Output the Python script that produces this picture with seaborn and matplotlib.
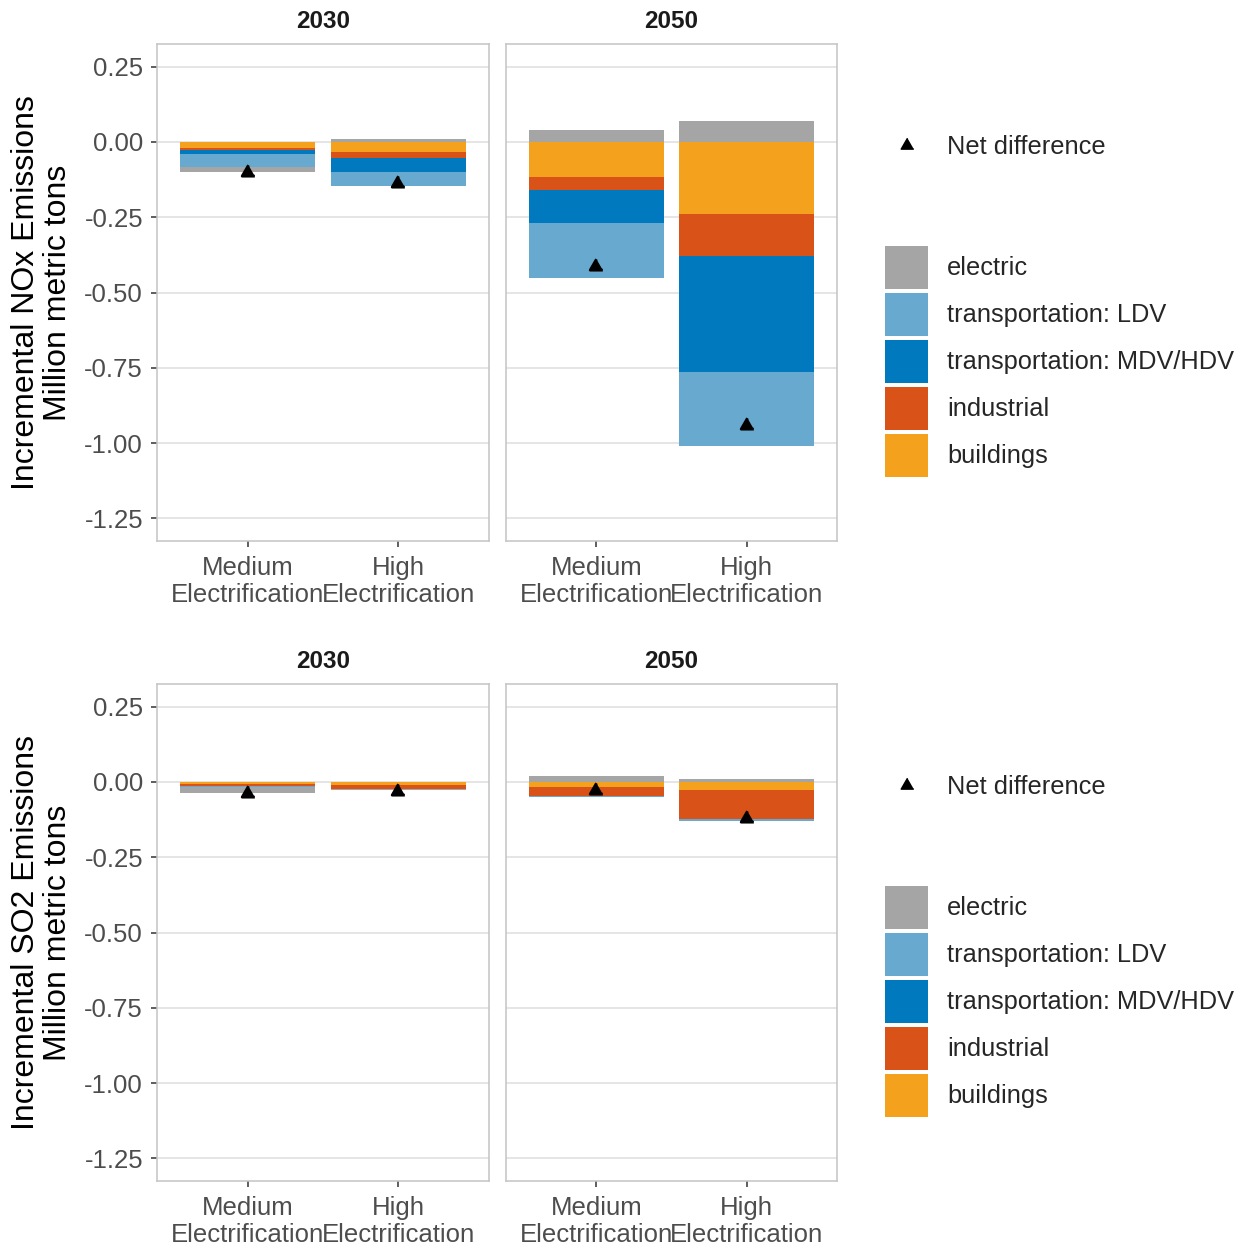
import numpy as np
import matplotlib
matplotlib.use("Agg")
import matplotlib.pyplot as plt
import seaborn as sns
from matplotlib.patches import Patch
from matplotlib.lines import Line2D

# ---------------- data ----------------
scenarios = ["Medium\nElectrification", "High\nElectrification"]
years = ["2030", "2050"]
sectors = ["electric", "transportation: LDV", "transportation: MDV/HDV",
           "industrial", "buildings"]
sector_colors = ["#A5A5A5", "#67A9CF", "#0079BF", "#D95319", "#F4A11D"]

# value order: [Medium 2030, High 2030, Medium 2050, High 2050]
nox_electric = [-0.018, 0.008, 0.040, 0.070]
nox_ldv = [-0.043, -0.047, -0.182, -0.245]
nox_mdv = [-0.013, -0.047, -0.111, -0.385]
nox_industrial = [-0.006, -0.018, -0.043, -0.141]
nox_buildings = [-0.020, -0.035, -0.116, -0.238]
nox_net = [-0.100, -0.138, -0.411, -0.940]

so2_electric = [-0.022, -0.003, 0.021, 0.008]
so2_ldv = [-0.001, 0.000, -0.004, -0.007]
so2_mdv = [0.000, 0.000, -0.001, -0.001]
so2_industrial = [-0.007, -0.013, -0.029, -0.094]
so2_buildings = [-0.008, -0.011, -0.017, -0.028]
so2_net = [-0.038, -0.030, -0.028, -0.121]

y_ticks = [0.25, 0.00, -0.25, -0.50, -0.75, -1.00, -1.25]
y_tick_labels = ["0.25", "0.00", "-0.25", "-0.50", "-0.75", "-1.00", "-1.25"]

rows = [
    ("Incremental NOx Emissions\nMillion metric tons",
     [nox_electric, nox_ldv, nox_mdv, nox_industrial, nox_buildings], nox_net),
    ("Incremental SO2 Emissions\nMillion metric tons",
     [so2_electric, so2_ldv, so2_mdv, so2_industrial, so2_buildings], so2_net),
]

# ---------------- style ----------------
sns.set_theme(style="white")
plt.rcParams["font.family"] = ["Liberation Sans", "DejaVu Sans"]

W, H = 1244, 1247
fig = plt.figure(figsize=(W / 100, H / 100), dpi=100)
fig.patch.set_facecolor("white")

tri = [(0, 1), (-0.866, -0.5), (0.866, -0.5)]
panel_x = [(157, 489), (506, 837)]
row_y = [(44, 541), (684, 1181)]

for r, (ylabel, comps, net) in enumerate(rows):
    top_px, bot_px = row_y[r]
    comps = np.array(comps, dtype=float)
    net = np.array(net, dtype=float)
    for j, year in enumerate(years):
        x0, x1 = panel_x[j]
        ax = fig.add_axes([x0 / W, 1 - bot_px / H, (x1 - x0) / W, (bot_px - top_px) / H])
        cols = [2 * j, 2 * j + 1]
        vals = comps[:, cols]
        neg = np.minimum(vals, 0)
        pos = np.maximum(vals, 0)
        # stacked bars: draw outermost layer first, inner layers on top
        for i in range(len(sectors)):
            neg_h = neg[i:].sum(axis=0)
            pos_h = pos[i:].sum(axis=0)
            for h in (neg_h, pos_h):
                sns.barplot(x=scenarios, y=h, order=scenarios, color=sector_colors[i],
                            saturation=1, width=0.9, linewidth=0, errorbar=None, ax=ax)
        sns.pointplot(x=scenarios, y=net[cols], order=scenarios, color="black",
                      markers=tri, markersize=10.5, linestyle="none",
                      errorbar=None, ax=ax)

        ax.set_xlim(-0.6, 1.6)
        ax.set_ylim(-1.325, 0.325)
        ax.set_yticks(y_ticks)
        ax.set_xticks([0, 1])
        ax.set_xticklabels(scenarios, fontsize=18.5, color="#4D4D4D", linespacing=1.12)
        if j == 0:
            ax.set_yticklabels(y_tick_labels, fontsize=18.5, color="#4D4D4D")
        else:
            ax.set_yticklabels([])
        ax.set_xlabel("")
        ax.set_ylabel("")
        ax.tick_params(axis="x", which="major", length=4, width=1.1,
                       color="#333333", pad=7, bottom=True)
        ax.tick_params(axis="y", which="major", length=4 if j == 0 else 0, width=1.1,
                       color="#333333", pad=6, left=(j == 0))
        ax.yaxis.grid(True, color="#DEDEDE", linewidth=1.1)
        ax.xaxis.grid(False)
        ax.set_axisbelow(True)
        for sp in ax.spines.values():
            sp.set_visible(True)
            sp.set_color("#C4C4C4")
            sp.set_linewidth(1.1)
        ax.text(0.5, 1 + 23 / (bot_px - top_px), year, transform=ax.transAxes,
                ha="center", va="center", fontsize=17.5, fontweight="bold",
                color="#1A1A1A")

    # y-axis title
    fig.text(42 / W, 1 - ((top_px + bot_px) / 2) / H, ylabel, rotation=90,
             ha="center", va="center", multialignment="center", fontsize=23,
             color="black", linespacing=1.05)

    off = r * 640
    fs = 18.3
    fpx = fs / 72 * 100
    hl = 43 / fpx
    hh = (43 / fpx - 0.245) / 0.65
    fig.legend(handles=[Line2D([], [], marker=tri, color="black", linestyle="None",
                               markersize=10.5)],
               labels=["Net difference"], loc="center left",
               bbox_to_anchor=(885 / W, 1 - (147 + off) / H),
               frameon=False, fontsize=fs, handlelength=hl,
               handletextpad=19 / fpx, borderpad=0, borderaxespad=0)
    fig.legend(handles=[Patch(facecolor=c, edgecolor="none") for c in sector_colors],
               labels=sectors, loc="upper left",
               bbox_to_anchor=(885 / W, 1 - (246 + off) / H),
               frameon=False, fontsize=fs, handlelength=hl, handleheight=hh,
               labelspacing=4 / fpx, handletextpad=19 / fpx,
               borderpad=0, borderaxespad=0)

fig.savefig("out.png", dpi=100, facecolor="white")
